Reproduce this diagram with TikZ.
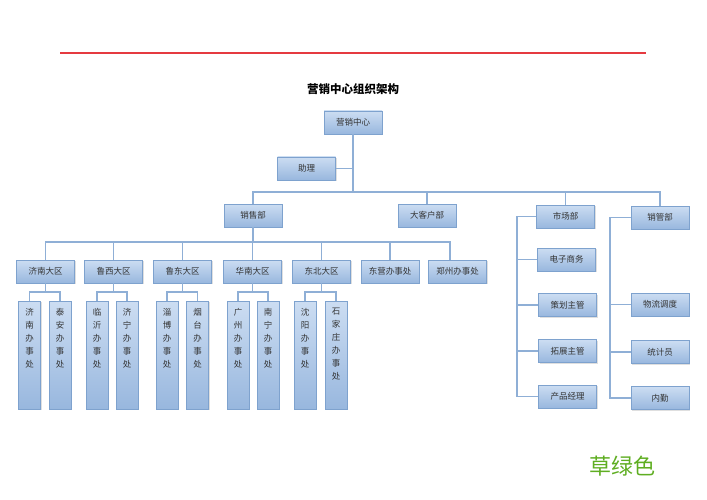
\documentclass[tikz,border=0pt]{standalone}
\usepackage{fontspec}
\setmainfont{Noto Sans CJK SC}
\usetikzlibrary{shadows}
\definecolor{boxtop}{HTML}{CCDDF2}
\definecolor{boxbot}{HTML}{98B7DE}
\definecolor{boxline}{HTML}{7EA2CE}
\definecolor{conn}{HTML}{8FAFD6}
\definecolor{redline}{HTML}{E53A40}
\definecolor{grassgreen}{HTML}{5FAE22}
\definecolor{boxtext}{HTML}{333333}
\tikzset{
  orgbox/.style={draw=boxline, line width=0.9pt, top color=boxtop, bottom color=boxbot,
    minimum width=58pt, minimum height=23pt, inner sep=0pt, text=boxtext,
    font=\fontsize{8.5}{10}\selectfont,
    drop shadow={shadow xshift=1pt, shadow yshift=-1pt, opacity=0.25}},
  vbox/.style={orgbox, minimum width=22pt, minimum height=108pt},
  link/.style={draw=conn, line width=1.1pt}
}
\newcommand{\vtext}[1]{\begin{minipage}[c][106pt][t]{20pt}\centering\fontsize{8.5}{13}\selectfont\vspace*{6pt}#1\end{minipage}}
\begin{document}
\begin{tikzpicture}[x=1pt,y=-1pt]
\useasboundingbox[fill=white] (0,0) rectangle (707,500);
\coordinate (rl1) at (60,53);
\coordinate (rl2) at (646,53);
\draw[redline, line width=1.2pt] (rl1) -- (rl2);
\node[font=\bfseries\fontsize{11.5}{13}\selectfont, text=black] (title) at (353,89) {营销中心组织架构};

\node[orgbox] (yx) at (353,122.5) {营销中心};
\node[orgbox] (zl) at (306.5,168.5) {助理};
\node[orgbox] (xs) at (253,215.5) {销售部};
\node[orgbox] (dk) at (427,215.5) {大客户部};
\node[orgbox] (sc) at (565.5,216.5) {市场部};
\node[orgbox] (xg) at (660,217.5) {销管部};

\node[orgbox] (r1) at (45.5,271.5) {济南大区};
\node[orgbox] (r2) at (113.5,271.5) {鲁西大区};
\node[orgbox] (r3) at (182.5,271.5) {鲁东大区};
\node[orgbox] (r4) at (252.5,271.5) {华南大区};
\node[orgbox] (r5) at (321.5,271.5) {东北大区};
\node[orgbox] (r6) at (390,271.5) {东营办事处};
\node[orgbox] (r7) at (457.5,271.5) {郑州办事处};

\node[vbox] (o1) at (29.5,355) {\vtext{济\\南\\办\\事\\处}};
\node[vbox] (o2) at (60,355) {\vtext{泰\\安\\办\\事\\处}};
\node[vbox] (o3) at (97,355) {\vtext{临\\沂\\办\\事\\处}};
\node[vbox] (o4) at (127,355) {\vtext{济\\宁\\办\\事\\处}};
\node[vbox] (o5) at (167,355) {\vtext{淄\\博\\办\\事\\处}};
\node[vbox] (o6) at (197.5,355) {\vtext{烟\\台\\办\\事\\处}};
\node[vbox] (o7) at (238,355) {\vtext{广\\州\\办\\事\\处}};
\node[vbox] (o8) at (268,355) {\vtext{南\\宁\\办\\事\\处}};
\node[vbox] (o9) at (305,355) {\vtext{沈\\阳\\办\\事\\处}};
\node[vbox] (o10) at (336,355) {\vtext{石\\家\\庄\\办\\事\\处}};

\node[orgbox] (p1) at (566.5,259.5) {电子商务};
\node[orgbox] (p2) at (567.5,305) {策划主管};
\node[orgbox] (p3) at (567.5,351) {拓展主管};
\node[orgbox] (p4) at (567.5,396.5) {产品经理};

\node[orgbox] (q1) at (660,304.5) {物流调度};
\node[orgbox] (q2) at (660,352) {统计员};
\node[orgbox] (q3) at (660,398) {内勤};

\node[text=grassgreen, font=\fontsize{22}{24}\selectfont] (grass) at (622,466) {草绿色};

% buses
\coordinate (b1) at (0,192);
\coordinate (b2) at (0,242);
\coordinate (b3) at (0,292);
\coordinate (m1) at (517,0);
\coordinate (m2) at (610,0);

\begin{scope}[on background layer/.style={}]
\path[link] (yx.south) -- (yx.south |- b1);
\path[link] (zl.east) -- (zl.east -| yx.south);
\path[link] (xs.north) -- (xs.north |- b1) -- (xg.north |- b1) -- (xg.north);
\path[link] (dk.north) -- (dk.north |- b1);
\path[link] (sc.north) -- (sc.north |- b1);

\path[link] (xs.south) -- (xs.south |- b2);
\path[link] (r1.north) -- (r1.north |- b2) -- ([xshift=-7.5pt]r7.north |- b2) -- ([xshift=-7.5pt]r7.north);
\path[link] (r2.north) -- (r2.north |- b2);
\path[link] (r3.north) -- (r3.north |- b2);
\path[link] (r4.north) -- (r4.north |- b2);
\path[link] (r5.north) -- (r5.north |- b2);
\path[link] (r6.north) -- (r6.north |- b2);

\path[link] (r1.south) -- (r1.south |- b3);
\path[link] (o1.north) -- (o1.north |- b3) -- (o2.north |- b3) -- (o2.north);
\path[link] (r2.south) -- (r2.south |- b3);
\path[link] (o3.north) -- (o3.north |- b3) -- (o4.north |- b3) -- (o4.north);
\path[link] (r3.south) -- (r3.south |- b3);
\path[link] (o5.north) -- (o5.north |- b3) -- (o6.north |- b3) -- (o6.north);
\path[link] (r4.south) -- (r4.south |- b3);
\path[link] (o7.north) -- (o7.north |- b3) -- (o8.north |- b3) -- (o8.north);
\path[link] (r5.south) -- (r5.south |- b3);
\path[link] (o9.north) -- (o9.north |- b3) -- (o10.north |- b3) -- (o10.north);

\path[link] (sc.west) -- (sc.west -| m1) -- (m1 |- p4.west) -- (p4.west);
\path[link] (m1 |- p1.west) -- (p1.west);
\path[link] (m1 |- p2.west) -- (p2.west);
\path[link] (m1 |- p3.west) -- (p3.west);

\path[link] (xg.west) -- (xg.west -| m2) -- (m2 |- q3.west) -- (q3.west);
\path[link] (m2 |- q1.west) -- (q1.west);
\path[link] (m2 |- q2.west) -- (q2.west);
\end{scope}
\end{tikzpicture}
\end{document}
